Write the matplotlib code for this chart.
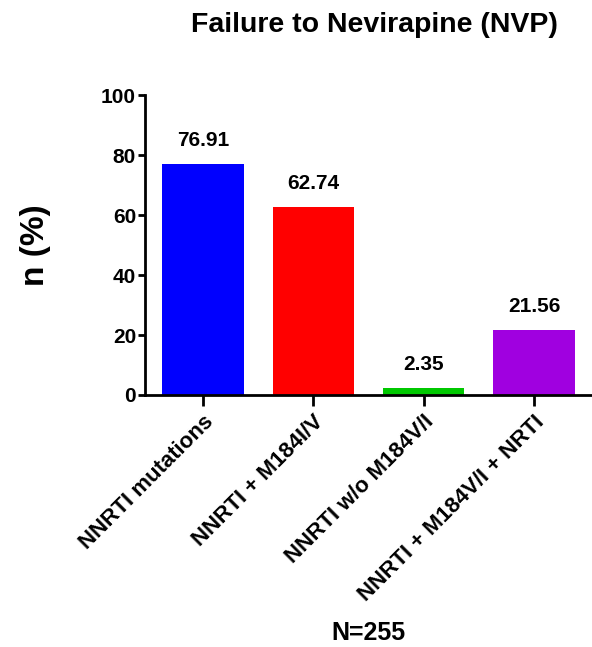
import matplotlib.pyplot as plt

# data
categories = ["NNRTI mutations", "NNRTI + M184I/V", "NNRTI w/o M184V/I", "NNRTI + M184V/I + NRTI"]
values = [76.91, 62.74, 2.35, 21.56]
bar_colors = ["#0000FF", "#FF0000", "#00C800", "#A000E0"]
yticks = [0, 20, 40, 60, 80, 100]

plt.rcParams['font.family'] = ['Liberation Sans', 'DejaVu Sans']
plt.rcParams['font.weight'] = 'bold'

fig = plt.figure(figsize=(5.92, 6.47), dpi=100)
ax = fig.add_axes([0.245, 0.3895, 0.755, 0.4635])

x = list(range(len(categories)))
ax.bar(x, values, width=0.74, color=bar_colors)

for xi, v in zip(x, values):
    ax.annotate(f"{v:.2f}", (xi, v), xytext=(0, 17), textcoords='offset points',
                ha='center', va='center', fontsize=15, fontweight='bold')

ax.set_xlim(-0.526, 3.526)
ax.set_ylim(0, 100)
ax.set_yticks(yticks)
ax.set_xticks(x)
ax.set_xticklabels(categories, rotation=45, ha='right', rotation_mode='anchor',
                   fontsize=16, fontweight='bold')
ax.tick_params(axis='y', labelsize=15, width=2, length=5, pad=1.5)
ax.tick_params(axis='x', width=2, length=8, pad=4)
for lab in ax.get_yticklabels():
    lab.set_fontweight('bold')

ax.spines['top'].set_visible(False)
ax.spines['right'].set_visible(False)
ax.spines['left'].set_linewidth(2)
ax.spines['bottom'].set_linewidth(2)

ax.set_ylabel("n (%)", fontsize=24, fontweight='bold', labelpad=36)
fig.text(0.632, 0.961, "Failure to Nevirapine (NVP)", ha='center', va='center',
         fontsize=20.5, fontweight='bold')
fig.text(0.622, 0.022, "N=255", ha='center', va='center', fontsize=18, fontweight='bold')

plt.savefig("out.png", dpi=100)
